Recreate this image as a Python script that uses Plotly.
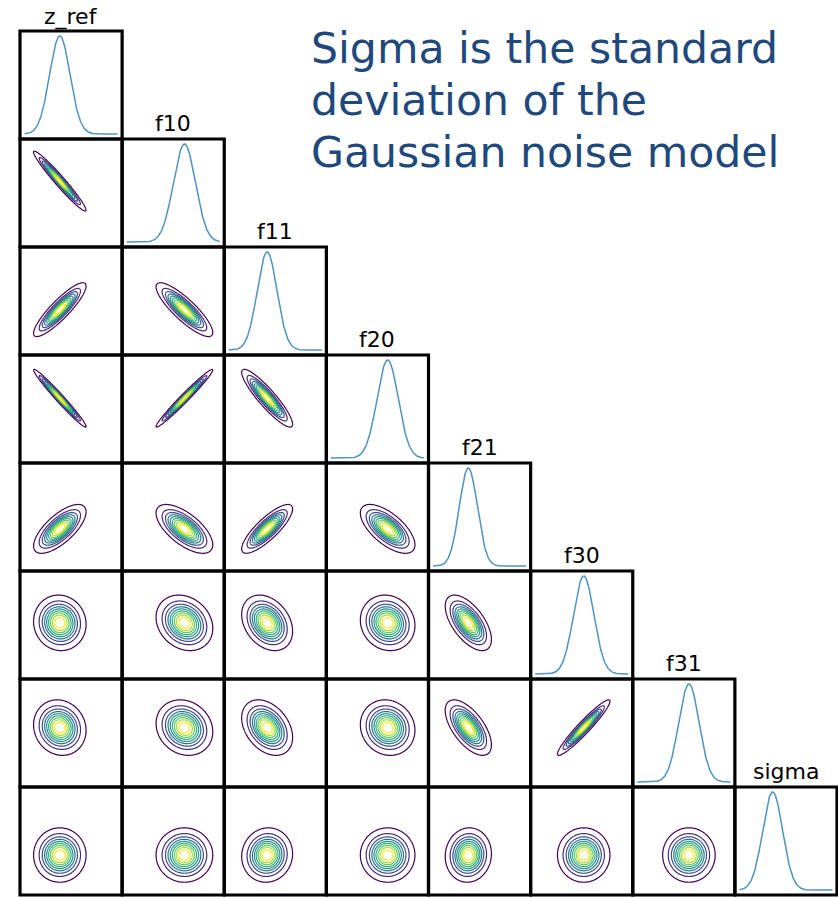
import numpy as np
import plotly.graph_objects as go
from plotly.subplots import make_subplots

# parameter names (corner plot order)
names = ['z_ref', 'f10', 'f11', 'f20', 'f21', 'f30', 'f31', 'sigma']
# posterior centre and spread of each parameter, in units of its own (unlabelled) axis range
centres = [0.39, 0.61, 0.42, 0.60, 0.39, 0.52, 0.55, 0.37]
spreads = [0.100, 0.108, 0.097, 0.104, 0.088, 0.100, 0.100, 0.098]
# lower triangle of the correlation matrix, row by row
corr_f10 = [-0.97]
corr_f11 = [0.88, -0.85]
corr_f20 = [-0.98, 0.98, -0.90]
corr_f21 = [0.70, -0.65, 0.82, -0.65]
corr_f30 = [-0.05, -0.20, -0.30, -0.10, -0.60]
corr_f31 = [-0.10, -0.15, -0.35, -0.10, -0.62, 0.95]
corr_sigma = [0.00, 0.00, 0.05, 0.00, 0.05, 0.00, 0.00]
corr_rows = [[], corr_f10, corr_f11, corr_f20, corr_f21, corr_f30, corr_f31, corr_sigma]

note_lines = ['Sigma is the standard', 'deviation of the', 'Gaussian noise model']

W, H = 838, 898
ML, MR, MT, MB = 20, 1, 31, 3
n = len(names)
fig = make_subplots(rows=n, cols=n, horizontal_spacing=0, vertical_spacing=0)

n_levels = 10
levels = np.linspace(0.05, 1.0, n_levels)  # iso-proportion levels, as seaborn kdeplot
step = levels[1] - levels[0]

for r in range(n):
    for c in range(n):
        if c > r:
            fig.update_xaxes(visible=False, row=r + 1, col=c + 1)
            fig.update_yaxes(visible=False, row=r + 1, col=c + 1)
            continue
        if r == c:
            xs = np.linspace(0.045, 0.955, 300)
            dens = np.exp(-0.5 * ((xs - centres[c]) / spreads[c]) ** 2)
            fig.add_trace(go.Scatter(x=xs, y=dens, mode='lines',
                                     line=dict(color='#4f93c2', width=1.5),
                                     hoverinfo='skip'), row=r + 1, col=c + 1)
            fig.update_yaxes(range=[-0.05, 1.05], row=r + 1, col=c + 1)
        else:
            rho = corr_rows[r][c]
            sx, sy = spreads[c] * 1.05, spreads[r] * 1.05
            mx, my = centres[c], centres[r]
            gx = np.linspace(mx - 3.4 * sx, mx + 3.4 * sx, 130)
            gy = np.linspace(my - 3.4 * sy, my + 3.4 * sy, 130)
            X, Y = np.meshgrid(gx, gy)
            u, v = (X - mx) / sx, (Y - my) / sy
            Z = np.exp(-0.5 * (u * u - 2 * rho * u * v + v * v) / (1 - rho * rho))
            fig.add_trace(go.Contour(x=gx, y=gy, z=Z.astype(np.float32),
                                     contours=dict(coloring='lines', start=levels[0],
                                                   end=levels[-2], size=step),
                                     colorscale='Viridis', zmin=levels[0], zmax=levels[-2],
                                     line=dict(width=1.2, smoothing=1),
                                     showscale=False, hoverinfo='skip'),
                          row=r + 1, col=c + 1)
            fig.update_yaxes(range=[0, 1], row=r + 1, col=c + 1)
        fig.update_xaxes(range=[0, 1], row=r + 1, col=c + 1)
        idx = r * n + c + 1
        sfx = '' if idx == 1 else str(idx)
        # panel frame
        fig.add_shape(type='rect', xref=f'x{sfx} domain', yref=f'y{sfx} domain',
                      x0=0, x1=1, y0=0, y1=1, line=dict(color='black', width=3.2),
                      layer='above')
        if r == c:
            fig.add_annotation(text=names[c], xref=f'x{sfx} domain', yref=f'y{sfx} domain',
                               x=0.5, y=1, xanchor='center', yanchor='bottom',
                               yshift=-1 if c == 0 else 1,
                               showarrow=False,
                               font=dict(family='DejaVu Sans', size=22, color='black'))

fig.update_xaxes(showticklabels=False, ticks='', showgrid=False, zeroline=False,
                 showline=False)
fig.update_yaxes(showticklabels=False, ticks='', showgrid=False, zeroline=False,
                 showline=False)

plot_w, plot_h = W - ML - MR, H - MT - MB
for k, line in enumerate(note_lines):
    ypix = 48 + 52 * k   # centre of each text line, figure pixels
    fig.add_annotation(text=line, xref='paper', yref='paper',
                       x=(309 - ML) / plot_w, y=(H - MB - ypix) / plot_h,
                       xanchor='left', yanchor='middle', align='left', showarrow=False,
                       font=dict(family='DejaVu Sans', size=42.6, color='#1f497d'))

fig.update_layout(width=W, height=H, margin=dict(l=ML, r=MR, t=MT, b=MB),
                  paper_bgcolor='white', plot_bgcolor='white', showlegend=False)

# let the figure sit at the page origin (no default body margin / scrollbars)
fig.write_html('out.html', config={'displayModeBar': False},
               post_script="document.body.style.margin='0';document.body.style.overflow='hidden';")
